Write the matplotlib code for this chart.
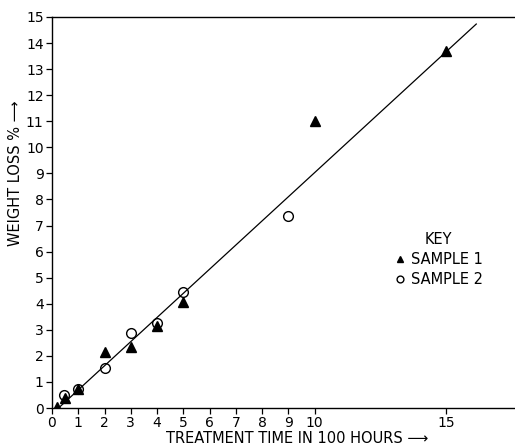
# -*- coding: utf-8 -*-
import matplotlib
matplotlib.use("Agg")
import matplotlib.pyplot as plt

# --- Data
# Sample 1 (filled triangles)
s1_time = [0.2, 0.5, 1, 2, 3, 4, 5, 10, 15]
s1_loss = [0.05, 0.37, 0.72, 2.16, 2.35, 3.15, 4.08, 11.0, 13.7]

# Sample 2 (open circles)
s2_time = [0.45, 1, 2, 3, 4, 5, 9]
s2_loss = [0.5, 0.72, 1.53, 2.89, 3.27, 4.46, 7.37]

# Drawn trend line (end points)
fit_time = [0.25, 16.15]
fit_loss = [0.0, 14.73]

xticks = [0, 1, 2, 3, 4, 5, 6, 7, 8, 9, 10, 15]
yticks = list(range(0, 16))

plt.rcParams['font.family'] = ['DejaVu Sans']

fig = plt.figure(figsize=(5.15, 4.46), dpi=100)
ax = fig.add_axes([52 / 515, 1 - 408 / 446, 463 / 515, 391 / 446])

# Trend line
ax.plot(fit_time, fit_loss, color='black', lw=0.9, zorder=2)

# Points
ax.plot(s1_time, s1_loss, ls='none', marker='^', ms=7, mfc='black',
        mec='black', label='SAMPLE 1', zorder=3)
ax.plot(s2_time, s2_loss, ls='none', marker='o', ms=7, mfc='none',
        mec='black', mew=1.0, label='SAMPLE 2', zorder=3)

# --- Axes
ax.set_xlim(0, 463 / 26.27)
ax.set_ylim(0, 15)
ax.set_xticks(xticks)
ax.set_yticks(yticks)
ax.tick_params(direction='out', length=4, width=0.9, labelsize=10,
               pad=2)

ax.spines['right'].set_visible(False)
for s in ['left', 'bottom', 'top']:
    ax.spines[s].set_linewidth(1.0)

ax.set_xlabel('TREATMENT TIME IN 100 HOURS \u27f6', fontsize=10.5)
ax.set_ylabel('WEIGHT LOSS % \u27f6', fontsize=10.5)
ax.xaxis.set_label_coords(0.53, -0.058)
ax.yaxis.set_label_coords(-0.062, 0.6)

# Key
leg = ax.legend(title='KEY', frameon=False, loc='center',
                bbox_to_anchor=(0.835, 0.38), fontsize=10.5,
                title_fontsize=10.5, markerscale=0.7, handlelength=0.8,
                handletextpad=0.4, labelspacing=0.35)

fig.savefig('out.png', dpi=100)
plt.close(fig)
